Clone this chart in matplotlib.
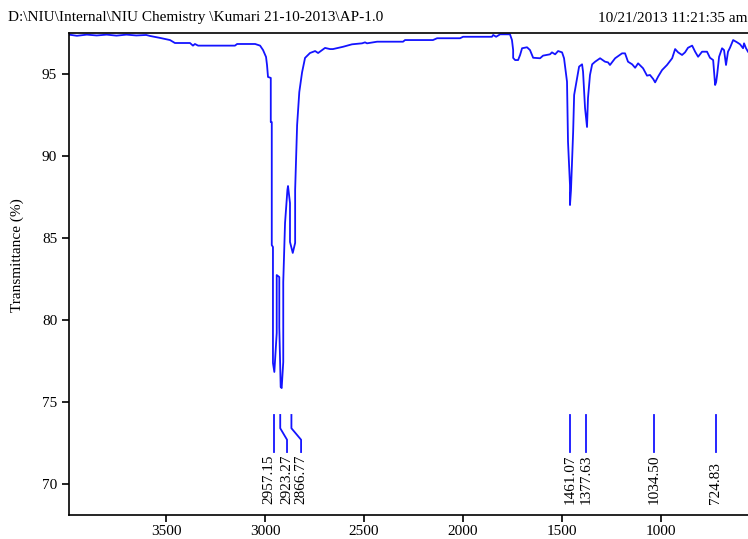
import matplotlib
matplotlib.use('Agg')
import matplotlib.pyplot as plt

# spectrum (wavenumber cm-1, transmittance %)
wavenumber = [3990, 3950, 3900, 3850, 3800, 3750, 3700, 3650, 3600, 3581, 3530, 3480, 3455,
              3379, 3364, 3354, 3338, 3152, 3141, 3050, 3025, 3010, 2995, 2990, 2985,
              2971, 2971, 2966, 2966, 2960, 2960, 2953, 2941, 2941, 2928, 2928, 2921,
              2916, 2908, 2908, 2899, 2887, 2884, 2874, 2874, 2860, 2848, 2848, 2838,
              2827, 2813, 2798, 2773, 2747, 2732, 2697, 2672, 2657, 2606, 2561, 2510,
              2495, 2485, 2434, 2303, 2293, 2152, 2131, 2015, 2000, 1854, 1848, 1833,
              1813, 1763, 1753, 1747, 1747, 1737, 1722, 1712, 1702, 1677, 1662, 1646,
              1611, 1596, 1561, 1551, 1535, 1520, 1500, 1490, 1475, 1470, 1460, 1460,
              1455, 1444, 1439, 1424, 1414, 1399, 1394, 1384, 1374, 1369, 1359, 1348,
              1333, 1308, 1283, 1268, 1258, 1232, 1197, 1182, 1167, 1146, 1131, 1116,
              1091, 1071, 1056, 1040, 1030, 1015, 995, 970, 944, 929, 914, 894, 879,
              864, 843, 828, 813, 793, 768, 753, 737, 727, 722, 717, 707, 692, 682,
              672, 662, 652, 636, 616, 601, 586, 581, 571, 561]
transmittance = [97.40, 97.33, 97.40, 97.35, 97.40, 97.34, 97.40, 97.35, 97.38, 97.32, 97.20, 97.07, 96.89,
                 96.89, 96.73, 96.83, 96.73, 96.73, 96.83, 96.83, 96.73, 96.46, 96.04, 95.55, 94.82,
                 94.76, 92.07, 92.07, 84.57, 84.45, 77.38, 76.83, 79.21, 82.74, 82.62, 79.57, 75.91,
                 75.85, 77.44, 82.32, 85.91, 87.93, 88.17, 87.13, 84.76, 84.09, 84.70, 87.93, 91.89,
                 93.90, 95.10, 95.98, 96.28, 96.40, 96.28, 96.59, 96.52, 96.52, 96.66, 96.81, 96.87,
                 96.93, 96.87, 96.97, 96.97, 97.07, 97.07, 97.18, 97.18, 97.27, 97.27, 97.38, 97.27,
                 97.42, 97.42, 97.07, 96.46, 95.98, 95.85, 95.85, 96.16, 96.57, 96.63, 96.46, 95.99,
                 95.96, 96.12, 96.20, 96.32, 96.20, 96.40, 96.32, 95.96, 94.53, 90.87, 88.23, 87.01,
                 87.90, 91.48, 93.72, 94.76, 95.45, 95.59, 95.14, 92.93, 91.77, 93.54, 94.94, 95.59,
                 95.75, 95.96, 95.75, 95.71, 95.55, 95.96, 96.26, 96.26, 95.75, 95.59, 95.38, 95.65,
                 95.35, 94.90, 94.94, 94.70, 94.49, 94.84, 95.24, 95.55, 95.96, 96.52, 96.32, 96.16, 96.32,
                 96.60, 96.73, 96.36, 96.05, 96.36, 96.36, 95.99, 95.85, 94.33, 94.50, 94.94, 96.05, 96.57, 96.46,
                 95.55, 96.36, 96.60, 97.07, 96.93, 96.81, 96.57, 96.87, 96.57, 96.36]

peak_positions = [2957.15, 2923.27, 2866.77, 1461.07, 1377.63, 1034.50, 724.83]
peak_labels = ['2957.15', '2923.27', '2866.77', '1461.07', '1377.63', '1034.50', '724.83']
# where the label text sits (shifted where the labels would collide)
label_x = [2980, 2889, 2818, 1461.07, 1377.63, 1034.50, 724.83]

xticks = [3500, 3000, 2500, 2000, 1500, 1000]
yticks = [70, 75, 80, 85, 90, 95]

plt.rcParams['font.family'] = ['Liberation Serif', 'DejaVu Serif']

fig = plt.figure(figsize=(7.48, 5.39), dpi=100)
ax = fig.add_axes([69 / 748, 24 / 539, 1 - 69 / 748, (515 - 33) / 539])

ax.plot(wavenumber, transmittance, color='#1414ff', linewidth=1.3)

ax.set_xlim(3990, 561)
ax.set_ylim(68.11, 97.5)
ax.set_xticks(xticks)
ax.set_yticks(yticks)
ax.tick_params(direction='out', length=5, width=1.2, labelsize=11, colors='black')
ax.tick_params(axis='x', pad=2)
ax.spines['right'].set_visible(False)
for s in ['left', 'bottom', 'top']:
    ax.spines[s].set_linewidth(1.2)
ax.set_ylabel('Transmittance (%)', fontsize=11)
ax.yaxis.set_label_coords(-0.067, 0.539)

# peak markers
for pos, lx, lab in zip(peak_positions, label_x, peak_labels):
    if abs(pos - lx) > 10 and lab != '2957.15':
        xs = [pos, pos, lx, lx]
        ys = [74.21, 73.4, 72.7, 71.95]
    else:
        xs = [pos, pos]
        ys = [74.21, 71.95]
    ax.plot(xs, ys, color='#1414ff', linewidth=1.3)
    ax.text(lx, 68.78, lab, rotation=90, ha='center', va='bottom', fontsize=11)

fig.text(8 / 748, 1 - 18 / 539, 'D:\\NIU\\Internal\\NIU Chemistry \\Kumari 21-10-2013\\AP-1.0',
         ha='left', va='center', fontsize=11)
fig.text(1.0, 1 - 18 / 539, '10/21/2013 11:21:35 am', ha='right', va='center', fontsize=11)

fig.savefig('out.png', dpi=100)
plt.close(fig)
